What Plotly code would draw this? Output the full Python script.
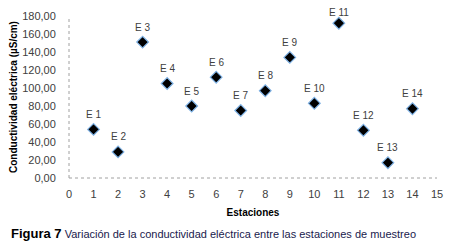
import plotly.graph_objects as go

estaciones = list(range(1, 15))
conductividad = [54, 29, 151, 105, 80, 112, 75, 97, 134, 83, 172, 53, 17, 77]
etiquetas = ["E %d" % i for i in estaciones]
yticks = list(range(0, 181, 20))
ytick_text = ["%d,00" % v for v in yticks]
xticks = list(range(0, 16))

fig = go.Figure()
fig.add_trace(go.Scatter(
    x=estaciones, y=conductividad, mode="markers",
    marker=dict(symbol="diamond", size=9, color="black",
                line=dict(color="#7FB2E5", width=1.2)),
    cliponaxis=False, showlegend=False,
))

label_annotations = []
for xv, yv, lab in zip(estaciones, conductividad, etiquetas):
    label_annotations.append(dict(
        x=xv, y=yv, xref="x", yref="y", text=lab, showarrow=False,
        yanchor="middle", yshift=11 if yv > 165 else 15,
        font=dict(family="Liberation Sans", size=10, color="#404040")))

fig.update_layout(
    width=456, height=248,
    margin=dict(l=61, r=27, t=8, b=78, autoexpand=False),
    paper_bgcolor="white", plot_bgcolor="white",
    font=dict(family="Liberation Sans", size=10, color="#404040"),
    xaxis=dict(range=[0, 15], tickvals=xticks, showgrid=False, zeroline=False,
               showline=False, ticks="outside", ticklen=6, tickcolor="rgba(0,0,0,0)",
               automargin=False, tickfont=dict(size=11, color="#404040"),
               title=dict(text="<b>Estaciones</b>", font=dict(size=10, color="black"), standoff=9)),
    yaxis=dict(range=[0, 180], tickvals=yticks, ticktext=ytick_text, showgrid=False,
               zeroline=False, showline=False, ticks="outside", ticklen=10,
               tickcolor="rgba(0,0,0,0)", automargin=False,
               tickfont=dict(size=11, color="#404040"),
               title=dict(text="<b>Conductividad eléctrica (µS/cm)</b>",
                          font=dict(size=10, color="black"), standoff=2)),
    shapes=[
        dict(type="line", xref="paper", yref="paper", x0=0, x1=0, y0=0, y1=1,
             line=dict(color="#A0A0A0", width=1, dash="dot")),
        dict(type="line", xref="paper", yref="paper", x0=0, x1=1, y0=0, y1=0,
             line=dict(color="#A0A0A0", width=1, dash="dot")),
    ],
    annotations=label_annotations + [
        dict(xref="paper", yref="paper", x=-0.163, y=-0.34, xanchor="left", yanchor="middle",
             showarrow=False, align="left",
             text="<b><span style='font-size:13px;color:black'>Figura 7</span></b> "
                  "<span style='font-size:11px;color:#1a1a4d'>Variación de la conductividad eléctrica entre las estaciones de muestreo</span>",
             font=dict(family="Liberation Sans Narrow, Liberation Sans", size=11)),
    ],
)

fig.write_html("out.html")
